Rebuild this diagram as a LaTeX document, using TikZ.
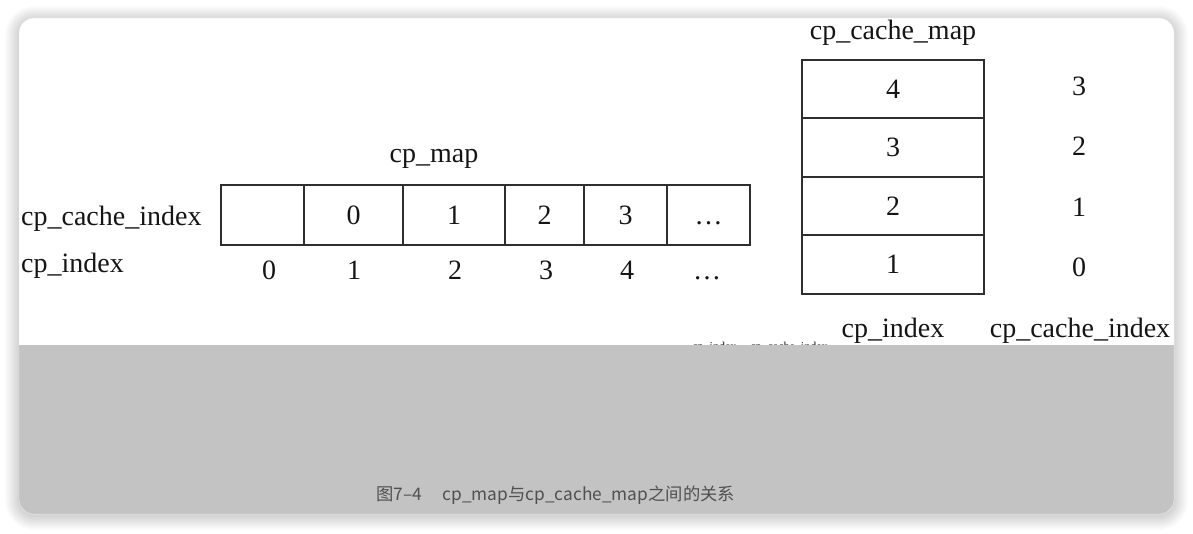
\documentclass[tikz,border=0pt]{standalone}
\usepackage{fontspec}
\setmainfont{Liberation Serif}
\newfontfamily\capfont{Noto Sans CJK SC}
\usetikzlibrary{positioning}
\definecolor{linegray}{HTML}{2E2E2E}
\definecolor{inkgray}{HTML}{151515}
\definecolor{capgray}{HTML}{C3C3C3}
\definecolor{captext}{HTML}{505050}
\newcommand\figfont{\fontsize{28}{30}\selectfont}

\begin{document}
\begin{tikzpicture}[x=1pt, y=-1pt,
  cell/.style={draw=linegray, line width=2.2pt, inner sep=0pt, minimum height=60pt, text=inkgray, font=\figfont},
  rcell/.style={cell, minimum width=182pt, minimum height=58.5pt},
  num/.style={inner sep=0pt, text=inkgray, font=\figfont},
  lbl/.style={inner sep=0pt, text=inkgray, font=\figfont}]
\useasboundingbox (0,0) rectangle (1193,533);
% card shadow and card
\foreach \s in {1,...,14} {
  \pgfmathsetmacro\rr{15+\s}
  \fill[black, opacity=0.011, rounded corners=\rr pt] (19-\s,18-\s+2) rectangle (1174+\s,514+\s+2);
}
\fill[white, rounded corners=15pt] (19,18) rectangle (1174,514);
% cut-off labels under the picture
\node[inner sep=0pt, anchor=base, font=\fontsize{12}{13}\selectfont, text=inkgray] (cut) at (760,350) {cp\_index\hspace{14pt}cp\_cache\_index};
\begin{scope}
  \clip[rounded corners=15pt] (19,18) rectangle (1174,514);
  \fill[capgray] (19,345) rectangle (1174,514);
\end{scope}
\draw[black!10, rounded corners=15pt] (19,18) rectangle (1174,514);

% cp_map
\node[lbl, anchor=base] (mapt) at (434,162) {cp\_map};
\node[cell, minimum width=83pt] (m0) at (262.5,215) {};
\node[cell, minimum width=99pt] (m1) at (353.5,215) {0};
\node[cell, minimum width=102pt] (m2) at (454,215) {1};
\node[cell, minimum width=79pt] (m3) at (544.5,215) {2};
\node[cell, minimum width=83pt] (m4) at (625.5,215) {3};
\node[cell, minimum width=83pt] (m5) at (708.5,215) {\vphantom{0}\textellipsis};
\node[lbl, anchor=base west] (lcache) at (21,225) {cp\_cache\_index};
\node[lbl, anchor=base west] (lindex) at (21,272) {cp\_index};
\node[num] (i0) at (269,270) {0};
\node[num] (i1) at (354,270) {1};
\node[num] (i2) at (455,270) {2};
\node[num] (i3) at (546,270) {3};
\node[num] (i4) at (627,270) {4};
\node[num] (i5) at (707,270) {\vphantom{0}\textellipsis};

% cp_cache_map
\node[lbl, anchor=base] (cachet) at (893,39) {cp\_cache\_map};
\node[rcell] (c4) at (893,89) {4};
\node[rcell] (c3) at (893,147.5) {3};
\node[rcell] (c2) at (893,206) {2};
\node[rcell] (c1) at (893,264.5) {1};
\node[num] (k3) at (1079,86) {3};
\node[num] (k2) at (1079,146) {2};
\node[num] (k1) at (1079,207) {1};
\node[num] (k0) at (1079,267) {0};
\node[lbl, anchor=base] (ridx) at (893,337) {cp\_index};
\node[lbl, anchor=base] (rcache) at (1080,337) {cp\_cache\_index};

% caption
\node[inner sep=0pt, anchor=base west, text=captext, font=\capfont\fontsize{17.3}{19}\selectfont] (cap) at (376,500) {图7–4\hspace{1.2em}cp\_map与cp\_cache\_map之间的关系};
\end{tikzpicture}
\end{document}
